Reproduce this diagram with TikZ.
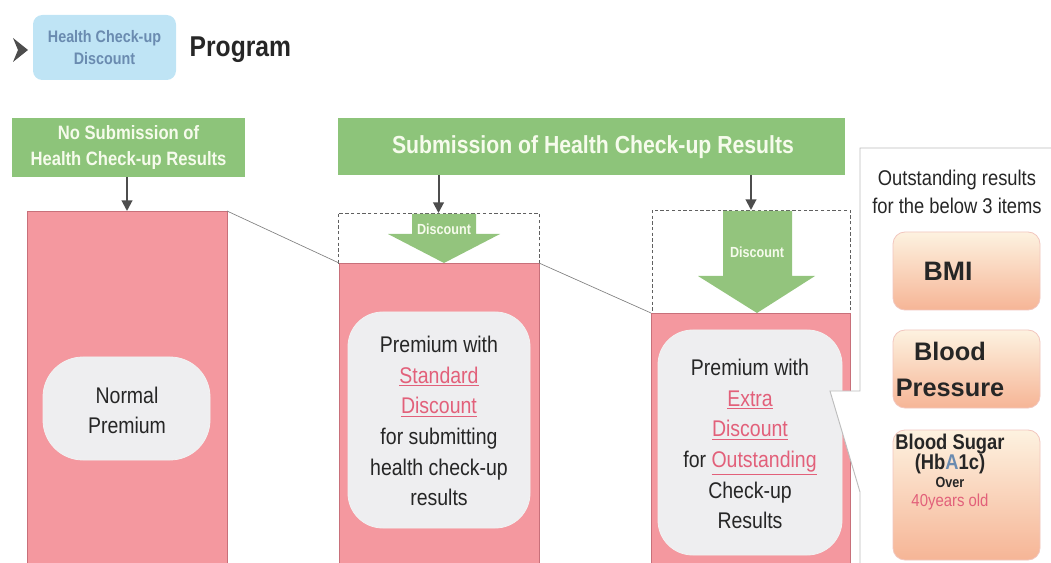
\documentclass[tikz,border=0pt]{standalone}
\usepackage{fontspec}
\setmainfont{Liberation Sans}[FakeStretch=0.86]
\newfontfamily\widefont{Liberation Sans}[FakeStretch=1.0]
\usetikzlibrary{fit,arrows.meta}

\definecolor{pinkfill}{HTML}{F4989F}
\definecolor{pinkedge}{HTML}{C8707A}
\definecolor{hdrgreen}{HTML}{8DC47A}
\definecolor{arrgreen}{HTML}{93C47D}
\definecolor{hdrtxt}{HTML}{F6FBEC}
\definecolor{softgray}{HTML}{EEEEF0}
\definecolor{accent}{HTML}{E2607A}
\definecolor{tfill}{HTML}{BFE4F5}
\definecolor{ttext}{HTML}{6A8BB0}
\definecolor{panelline}{HTML}{BDBDBD}
\definecolor{itemtop}{HTML}{FDF2E0}
\definecolor{itembot}{HTML}{F6B596}
\definecolor{itemedge}{HTML}{F2C6BE}
\definecolor{darkarr}{HTML}{4D4D4D}

\tikzset{
  frame/.style={inner sep=0pt, outer sep=0pt},
  pinkbox/.style={frame, fill=pinkfill, draw=pinkedge, line width=0.5pt},
  hdrbox/.style={frame, fill=hdrgreen},
  hdrtext/.style={text=hdrtxt, align=center, font=\bfseries},
  dashbox/.style={frame, draw=gray!75!black, line width=0.6pt, dash pattern=on 2.5pt off 1.8pt},
  softbox/.style={frame, fill=softgray, draw=white!90!gray, line width=0.6pt},
  bodytext/.style={align=center, text=black!85, font=\fontsize{17}{23}\selectfont},
  itembox/.style={frame, rounded corners=9pt, top color=itemtop, bottom color=itembot, draw=itemedge, line width=0.6pt},
  connector/.style={draw=darkarr, line width=1.5pt, -{Triangle[length=8pt,width=8pt]}},
  thinline/.style={draw=gray, line width=0.5pt},
  blockarrow/.style={fill=arrgreen}
}
\newcommand{\hlword}[1]{\textcolor{accent}{\underline{#1}}}

\begin{document}
\begin{tikzpicture}[x=0.75pt,y=-0.75pt]
\useasboundingbox (0,0) rectangle (1051,563);

% ---- title line ----
\fill[darkarr] (13,38) -- (28,50) -- (13,62) -- (18,50) -- cycle;
\node[frame, fit={(33,15) (176,80)}, fill=tfill, rounded corners=7pt] (tbox) {};
\node[align=center, text=ttext, font=\bfseries\fontsize{12.5}{17}\selectfont] (ttxt) at (tbox) {Health Check-up\\Discount};
\node[anchor=west, font=\bfseries\fontsize{21.5}{24}\selectfont, text=black!85] (prog) at (185,50) {Program};

% ---- headers ----
\node[hdrbox, fit={(12,118) (245,177)}] (hdrNo) {};
\node[hdrtext, font=\bfseries\fontsize{14.5}{20}\selectfont] (hdrNoTxt) at (hdrNo) {No Submission of\\Health Check-up Results};
\node[hdrbox, fit={(338,118) (845,175)}] (hdrYes) {};
\node[hdrtext, font=\bfseries\fontsize{18.5}{20}\selectfont] (hdrYesTxt) at (593,147) {Submission of Health Check-up Results};

% ---- premium columns ----
\node[pinkbox, fit={(27,211) (227,575)}] (pinkA) {};
\node[dashbox, fit={(338,213) (539,263)}] (dashB) {};
\node[pinkbox, fit={(339,263) (539,575)}] (pinkB) {};
\node[dashbox, fit={(652,210) (850,313)}] (dashC) {};
\node[pinkbox, fit={(651,313) (850,575)}] (pinkC) {};

% discount block arrows
\fill[blockarrow] (412,214) -- (476,214) -- (476,234) -- (500,234) -- (444,263) -- (388,234) -- (412,234) -- cycle;
\node[text=hdrtxt, font=\bfseries\fontsize{11}{13}\selectfont] (discB) at (444,229) {Discount};
\fill[blockarrow] (723,211) -- (792,211) -- (792,276) -- (815,276) -- (757,313) -- (698,276) -- (723,276) -- cycle;
\node[text=hdrtxt, font=\bfseries\fontsize{11}{13}\selectfont] (discC) at (757,252) {Discount};

% header connectors
\draw[connector] (hdrNo.south -| pinkA.north) -- (pinkA.north);
\draw[connector] (hdrYes.south -| dashB.north) -- (dashB.north);
\draw[connector] (hdrYes.south -| dashC.north) -- (dashC.north);

% guide lines between column tops
\draw[thinline] (pinkA.north east) -- (pinkB.north west);
\draw[thinline] (pinkB.north east) -- (pinkC.north west);

% premium descriptions
\node[softbox, rounded corners=30pt, fit={(43,357) (210,460)}] (softA) {};
\node[bodytext, font=\fontsize{17}{22.5}\selectfont] (txtA) at (127,410) {Normal\\Premium};

\node[softbox, rounded corners=26pt, fit={(348,312) (530,528)}] (softB) {};
\node[bodytext] (txtB) at (439,421) {Premium with\\\hlword{Standard}\\\hlword{Discount}\\for submitting\\health check-up\\results};

\node[softbox, rounded corners=26pt, fit={(658,330) (842,555)}] (softC) {};
\node[bodytext] (txtC) at (750,444) {Premium with\\\hlword{Extra}\\\hlword{Discount}\\for \hlword{Outstanding}\\Check-up\\Results};

% ---- callout panel with the three items ----
\draw[draw=panelline, fill=white, line width=0.7pt]
  (860,391) -- (860,148) -- (1060,148) -- (1060,575) -- (860,575) -- (860,492) -- (830,391) -- cycle;
\node[align=center, text=black!85, font=\fontsize{16}{21}\selectfont] (panelTxt) at (957,192) {Outstanding results\\for the below 3 items};

\node[itembox, fit={(893,232) (1040,310)}] (itemBMI) {};
\node[text=black!85, font=\widefont\bfseries\fontsize{20}{22}\selectfont] (txtBMI) at (948,271) {BMI};
\node[itembox, fit={(893,330) (1040,408)}] (itemBP) {};
\node[align=center, text=black!85, font=\widefont\bfseries\fontsize{19}{27}\selectfont] (txtBP) at (950,369) {Blood\\Pressure};
\node[itembox, fit={(893,430) (1040,560)}] (itemBS) {};
\node[align=center, text=black!85, font=\bfseries\fontsize{16}{15}\selectfont] (txtBS) at (950,472)
  {Blood Sugar\\(Hb\textcolor{ttext}{A}1c)\\[-1pt]{\fontsize{11}{14}\selectfont Over}\\[-1pt]{\fontsize{13}{14}\selectfont\mdseries\textcolor{accent}{40years old}}};

\end{tikzpicture}
\end{document}
